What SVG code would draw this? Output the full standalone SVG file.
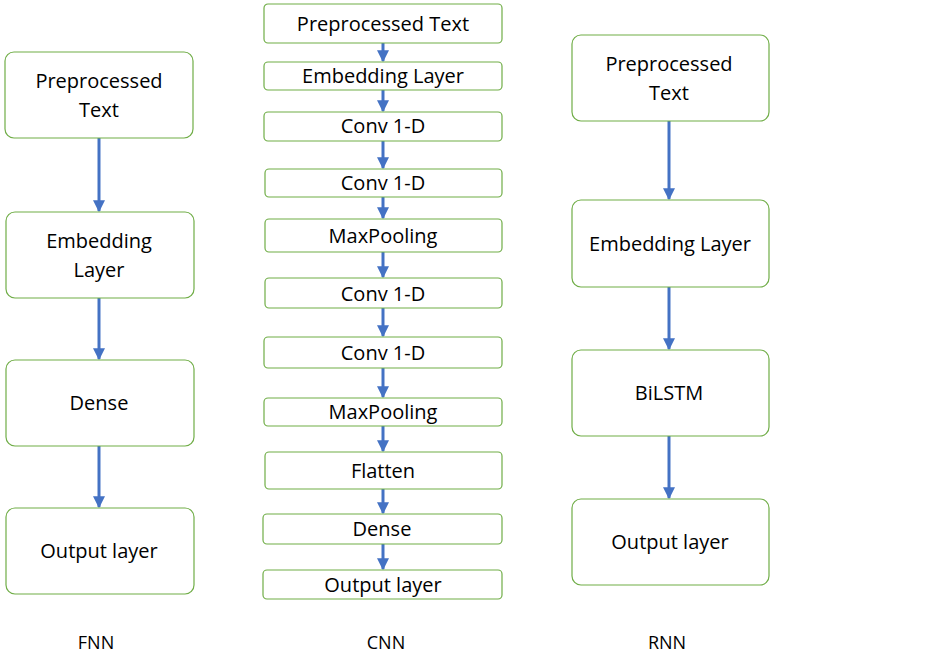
<svg xmlns="http://www.w3.org/2000/svg" width="950" height="671" viewBox="0 0 950 671">
<defs>
<style>
.box{fill:#fff;stroke:#70AD47;stroke-width:1.2}
.t{font-family:"Open Sans","Liberation Sans",sans-serif;font-size:20px;fill:#000;text-anchor:middle}
.c{stroke:#4472C4;stroke-width:3;fill:none;marker-end:url(#ah)}
.lbl{font-family:"Open Sans","Liberation Sans",sans-serif;font-size:18px;fill:#000;text-anchor:middle}
</style>
<marker id="ah" viewBox="0 0 10 10" refX="9" refY="5" markerWidth="4" markerHeight="4" orient="auto" markerUnits="strokeWidth">
<path d="M0,0 L10,5 L0,10 z" fill="#4472C4"/>
</marker>
</defs>
<rect width="950" height="671" fill="#fff"/>
<g id="connectors">
<line class="c" x1="99" y1="138" x2="99" y2="211"/>
<line class="c" x1="99" y1="298" x2="99" y2="359"/>
<line class="c" x1="99" y1="446" x2="99" y2="507"/>
<line class="c" x1="383" y1="43" x2="383" y2="61"/>
<line class="c" x1="383" y1="90" x2="383" y2="111"/>
<line class="c" x1="383" y1="141" x2="383" y2="168"/>
<line class="c" x1="383" y1="197" x2="383" y2="218"/>
<line class="c" x1="383" y1="252" x2="383" y2="277"/>
<line class="c" x1="383" y1="308" x2="383" y2="336"/>
<line class="c" x1="383" y1="368" x2="383" y2="397"/>
<line class="c" x1="383" y1="426" x2="383" y2="451"/>
<line class="c" x1="383" y1="489" x2="383" y2="513"/>
<line class="c" x1="383" y1="544" x2="383" y2="569"/>
<line class="c" x1="669" y1="121" x2="669" y2="199"/>
<line class="c" x1="669" y1="287" x2="669" y2="349"/>
<line class="c" x1="669" y1="436" x2="669" y2="498"/>
</g>
<g id="fnn-pre"><rect class="box" x="5" y="52" width="188" height="86" rx="9"/><text class="t" x="99" y="88">Preprocessed</text><text class="t" x="99" y="117">Text</text></g>
<g id="fnn-emb"><rect class="box" x="6" y="212" width="188" height="86" rx="9"/><text class="t" x="99" y="248">Embedding</text><text class="t" x="99" y="277">Layer</text></g>
<g id="fnn-dense"><rect class="box" x="6" y="360" width="188" height="86" rx="9"/><text class="t" x="99" y="410">Dense</text></g>
<g id="fnn-out"><rect class="box" x="6" y="508" width="188" height="86" rx="9"/><text class="t" x="99" y="558">Output layer</text></g>

<g id="cnn-pre"><rect class="box" x="264" y="4" width="238" height="39" rx="4"/><text class="t" x="383" y="31">Preprocessed Text</text></g>
<g id="cnn-emb"><rect class="box" x="264" y="62" width="238" height="28" rx="4"/><text class="t" x="383" y="83">Embedding Layer</text></g>
<g id="cnn-conv1"><rect class="box" x="264" y="112" width="238" height="29" rx="4"/><text class="t" x="383" y="133">Conv 1-D</text></g>
<g id="cnn-conv2"><rect class="box" x="265" y="169" width="237" height="28" rx="4"/><text class="t" x="383" y="190">Conv 1-D</text></g>
<g id="cnn-pool1"><rect class="box" x="265" y="219" width="237" height="33" rx="4"/><text class="t" x="383" y="243">MaxPooling</text></g>
<g id="cnn-conv3"><rect class="box" x="265" y="278" width="237" height="30" rx="4"/><text class="t" x="383" y="301">Conv 1-D</text></g>
<g id="cnn-conv4"><rect class="box" x="264" y="337" width="238" height="31" rx="4"/><text class="t" x="383" y="360">Conv 1-D</text></g>
<g id="cnn-pool2"><rect class="box" x="264" y="398" width="238" height="28" rx="4"/><text class="t" x="383" y="419">MaxPooling</text></g>
<g id="cnn-flat"><rect class="box" x="265" y="452" width="237" height="37" rx="4"/><text class="t" x="383" y="478">Flatten</text></g>
<g id="cnn-dense"><rect class="box" x="263" y="514" width="239" height="30" rx="4"/><text class="t" x="382" y="536">Dense</text></g>
<g id="cnn-out"><rect class="box" x="263" y="570" width="239" height="29" rx="4"/><text class="t" x="383" y="592">Output layer</text></g>

<g id="rnn-pre"><rect class="box" x="572" y="35" width="197" height="86" rx="9"/><text class="t" x="669" y="71">Preprocessed</text><text class="t" x="669" y="100">Text</text></g>
<g id="rnn-emb"><rect class="box" x="572" y="200" width="197" height="87" rx="9"/><text class="t" x="670" y="251">Embedding Layer</text></g>
<g id="rnn-bilstm"><rect class="box" x="572" y="350" width="197" height="86" rx="9"/><text class="t" x="669" y="400">BiLSTM</text></g>
<g id="rnn-out"><rect class="box" x="572" y="499" width="197" height="86" rx="9"/><text class="t" x="670" y="549">Output layer</text></g>

<g id="labels">
<text class="lbl" x="96" y="649">FNN</text>
<text class="lbl" x="386" y="649">CNN</text>
<text class="lbl" x="667" y="649">RNN</text>
</g>
</svg>
